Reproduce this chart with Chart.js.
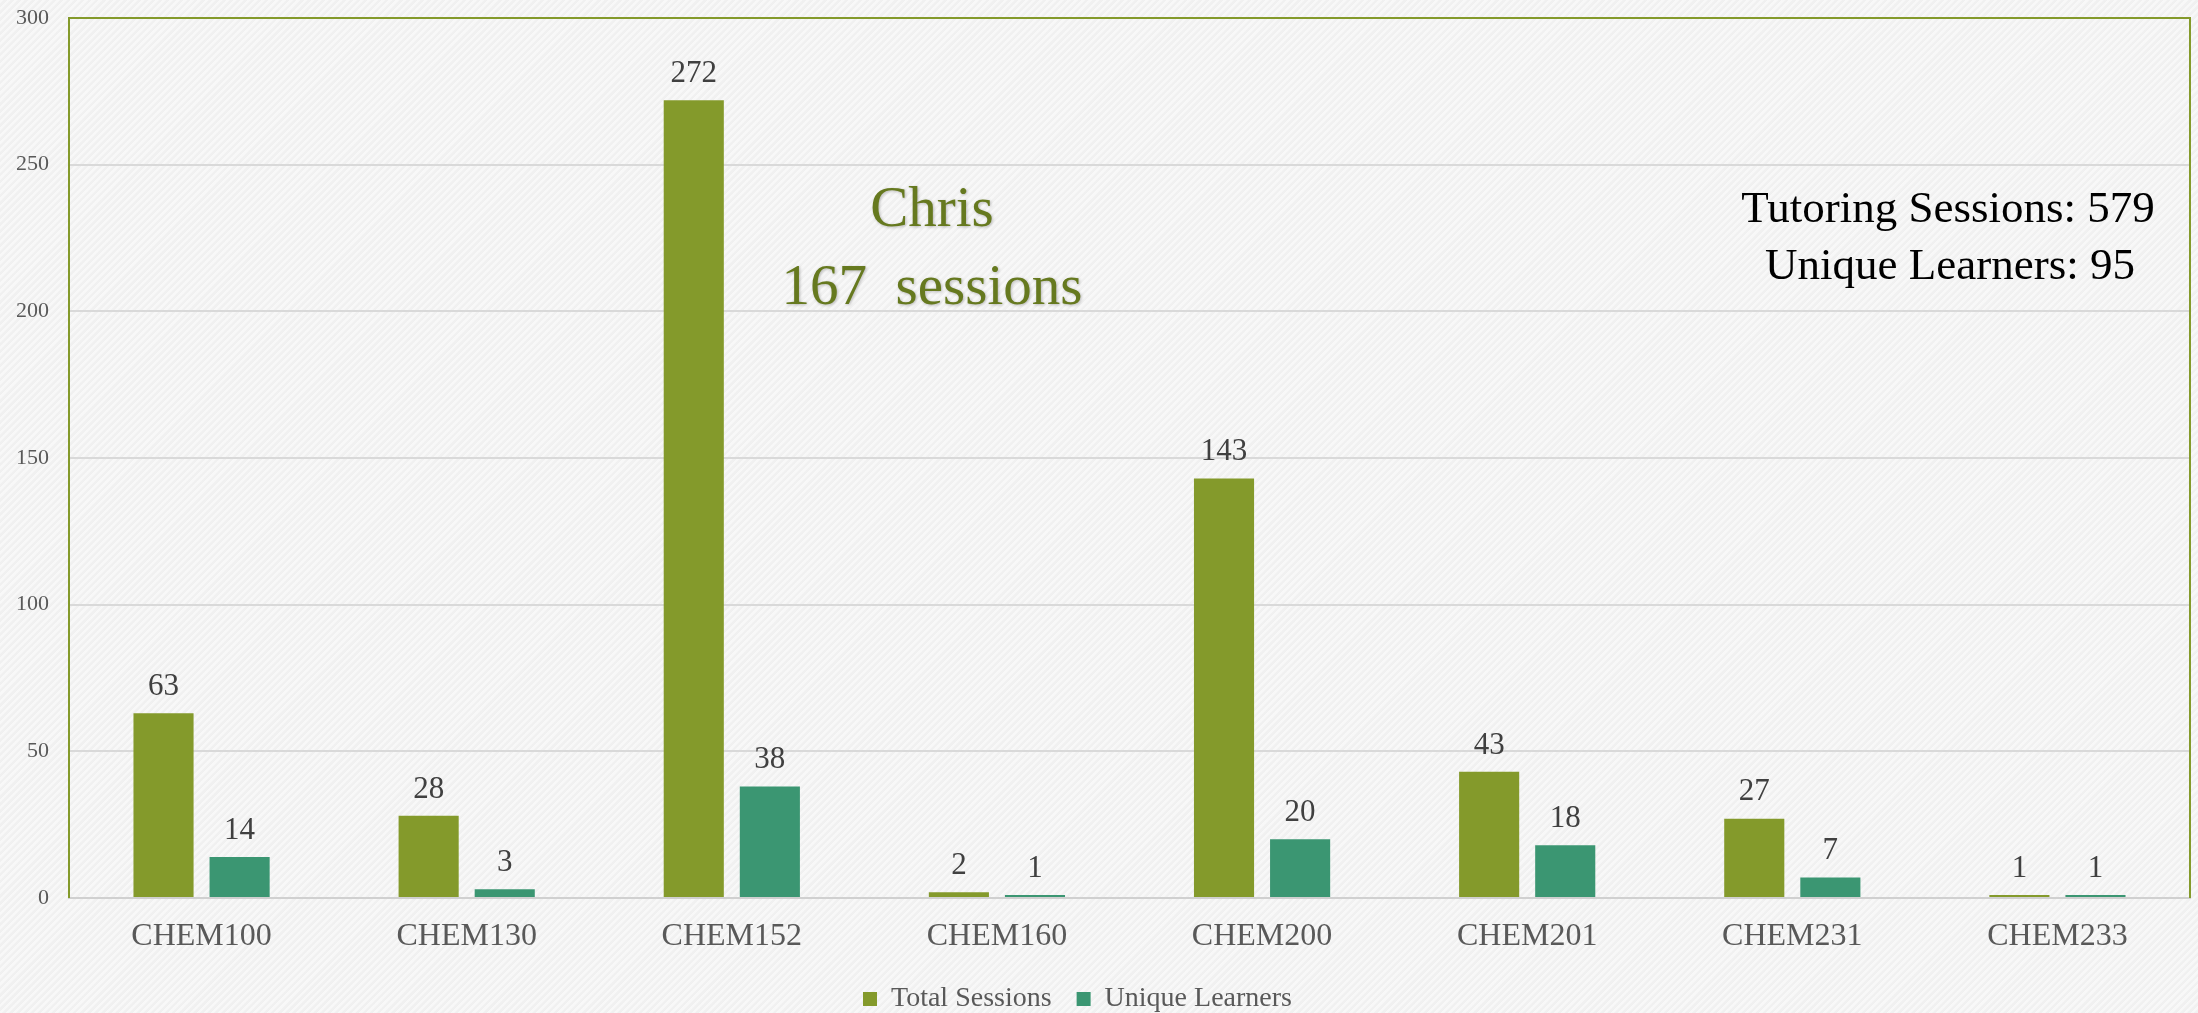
<!DOCTYPE html>
<html>
<head>
<meta charset="utf-8">
<script src="https://cdn.jsdelivr.net/npm/chart.js@4.4.1/dist/chart.umd.min.js"></script>
<style>
  html, body {
    margin: 0;
    padding: 0;
    background-color: #f4f4f4;
    background-image: repeating-linear-gradient(135deg, rgba(255,255,255,0.35) 0px, rgba(255,255,255,0.35) 2px, rgba(230,230,230,0.25) 3px, rgba(230,230,230,0.25) 5px);
  }
  #wrap { width: 2198px; height: 1013px; position: relative; }
</style>
</head>
<body>
<div id="wrap"><canvas id="chartSesi"></canvas></div>
<script>
// Data
const kursus = ['CHEM100', 'CHEM130', 'CHEM152', 'CHEM160', 'CHEM200', 'CHEM201', 'CHEM231', 'CHEM233'];
const totalSessions = [63, 28, 272, 2, 143, 43, 27, 1];
const uniqueLearners = [14, 3, 38, 1, 20, 18, 7, 1];
const yTicks = [0, 50, 100, 150, 200, 250, 300];

const hijau = '#849A2B';
const tosca = '#3B9672';
const serif = "'Liberation Serif', 'Times New Roman', serif";

// Garis tepi plot (atas, kiri, kanan) warna hijau
const bingkaiPlugin = {
  id: 'bingkai',
  afterDraw(chart) {
    const { ctx, chartArea: a } = chart;
    ctx.save();
    ctx.strokeStyle = hijau;
    ctx.lineWidth = 2;
    ctx.beginPath();
    ctx.moveTo(a.left, a.bottom);
    ctx.lineTo(a.left, a.top);
    ctx.lineTo(a.right, a.top);
    ctx.lineTo(a.right, a.bottom);
    ctx.stroke();
    ctx.restore();
  }
};

// Label nilai di atas batang
const labelNilaiPlugin = {
  id: 'labelNilai',
  afterDatasetsDraw(chart) {
    const { ctx } = chart;
    ctx.save();
    ctx.fillStyle = '#404040';
    ctx.font = `31px ${serif}`;
    ctx.textAlign = 'center';
    ctx.textBaseline = 'bottom';
    chart.data.datasets.forEach((ds, i) => {
      chart.getDatasetMeta(i).data.forEach((bar, j) => {
        ctx.fillText(ds.data[j], bar.x, bar.y - 11);
      });
    });
    ctx.restore();
  }
};

// Teks anotasi
const anotasiPlugin = {
  id: 'anotasi',
  afterDraw(chart) {
    const { ctx } = chart;
    ctx.save();
    ctx.textAlign = 'center';
    ctx.textBaseline = 'middle';
    ctx.fillStyle = '#66791F';
    ctx.shadowColor = 'rgba(0,0,0,0.25)';
    ctx.shadowBlur = 3;
    ctx.shadowOffsetX = 1;
    ctx.shadowOffsetY = 1;
    ctx.font = `57px ${serif}`;
    ctx.fillText('Chris', 932, 211);
    ctx.fillText('167  sessions', 932, 289);
    ctx.shadowColor = 'transparent';
    ctx.fillStyle = '#000000';
    ctx.font = `45px ${serif}`;
    ctx.fillText('Tutoring Sessions: 579', 1948, 210);
    ctx.fillText('Unique Learners: 95', 1950, 267);
    ctx.restore();
  }
};

const ctx = document.getElementById('chartSesi').getContext('2d');

new Chart(ctx, {
  type: 'bar',
  data: {
    labels: kursus,
    datasets: [
      {
        label: 'Total Sessions',
        data: totalSessions,
        backgroundColor: hijau,
        borderWidth: 0,
        categoryPercentage: 0.574,
        barPercentage: 0.79
      },
      {
        label: 'Unique Learners',
        data: uniqueLearners,
        backgroundColor: tosca,
        borderWidth: 0,
        categoryPercentage: 0.574,
        barPercentage: 0.79
      }
    ]
  },
  options: {
    responsive: true,
    maintainAspectRatio: false,
    animation: false,
    layout: {
      padding: { left: 14, right: 8, top: 0, bottom: -10 }
    },
    plugins: {
      legend: {
        position: 'bottom',
        labels: {
          color: '#595959',
          font: { family: serif, size: 28 },
          boxWidth: 14,
          boxHeight: 14,
          padding: 18,
          // spasi tambahan supaya jarak & posisi legenda mirip aslinya
          generateLabels: chart => {
            const items = Chart.defaults.plugins.legend.labels.generateLabels(chart);
            items[0].text += ' ';
            items[1].text += '       ';
            return items;
          }
        }
      },
      tooltip: { enabled: false }
    },
    scales: {
      x: {
        grid: { display: false, drawTicks: false },
        border: { color: '#d0d0d0', width: 2 },
        ticks: {
          color: '#595959',
          font: { family: serif, size: 32 },
          padding: 19,
          maxRotation: 0
        },
        afterFit: axis => {
          axis.height = 69;
        }
      },
      y: {
        min: 0,
        max: 300,
        afterBuildTicks: axis => {
          axis.ticks = yTicks.map(v => ({ value: v }));
        },
        afterFit: axis => {
          axis.width = 55;
          axis.paddingTop = 18;
        },
        grid: {
          color: '#d9d9d9',
          lineWidth: 2,
          drawTicks: false
        },
        border: { display: false },
        ticks: {
          color: '#595959',
          font: { family: serif, size: 22 },
          padding: 20
        }
      }
    }
  },
  plugins: [bingkaiPlugin, labelNilaiPlugin, anotasiPlugin]
});
</script>
</body>
</html>
